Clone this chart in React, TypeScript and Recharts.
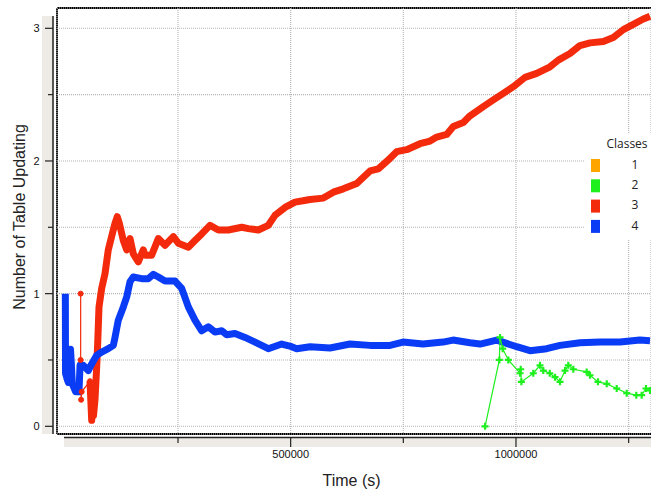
import React from 'react';
import { LineChart, Line, XAxis, YAxis, CartesianGrid, Legend } from 'recharts';

// ---- Data (x in seconds, y = number of table updating) ----
const class4Times = [0, 400, 3700, 6600, 9200, 11500, 13700, 15500, 23000, 30300, 32600, 39900, 51000, 58500, 69600, 80700, 95300, 106500, 110200, 117500, 128700, 136200, 143500, 150800, 169500, 184100, 195200, 206300, 221200, 243400, 258200, 272900, 287700, 302600, 317300, 332100, 347000, 358100, 376500, 398700, 420900, 450400, 480100, 502300, 513400, 543000, 587300, 631700, 676100, 720500, 749300, 793700, 838100, 860300, 898000, 920200, 957200, 1001600, 1031100, 1068100, 1097700, 1142000, 1186500, 1230800, 1275200, 1297400];
const class4Values = [1.0, 0.4, 0.36, 0.33, 0.42, 0.58, 0.45, 0.32, 0.26, 0.26, 0.46, 0.46, 0.42, 0.47, 0.535, 0.56, 0.585, 0.61, 0.67, 0.8, 0.9, 0.975, 1.09, 1.125, 1.113, 1.113, 1.146, 1.125, 1.095, 1.095, 1.04, 0.9, 0.8, 0.72, 0.75, 0.71, 0.72, 0.69, 0.7, 0.67, 0.635, 0.585, 0.62, 0.6, 0.585, 0.6, 0.59, 0.62, 0.61, 0.61, 0.635, 0.62, 0.635, 0.65, 0.63, 0.62, 0.65, 0.6, 0.57, 0.585, 0.61, 0.63, 0.635, 0.635, 0.65, 0.645];

const class3EarlyTimes = [34000, 34000, 35000, 36300, 54700];
const class3EarlyValues = [1.0, 0.5, 0.2, 0.26, 0.34];

const class3Times = [54700, 58500, 60300, 62500, 65800, 69600, 71800, 74700, 80700, 88000, 95300, 104200, 110200, 115300, 119800, 128700, 136200, 143500, 150800, 161900, 173000, 176800, 191600, 206300, 221200, 239600, 250700, 272900, 287700, 302600, 321000, 339500, 361700, 391400, 406100, 428300, 450400, 465300, 487500, 509600, 527400, 543000, 572500, 594700, 616900, 646600, 676100, 694500, 720500, 735300, 757400, 787000, 809200, 824100, 846300, 860900, 883100, 898000, 927500, 949700, 971900, 994100, 1020000, 1046000, 1075500, 1093900, 1119800, 1142000, 1164300, 1193800, 1216000, 1238200, 1260300, 1282500, 1297400];
const class3Values = [0.34, 0.045, 0.25, 0.08, 0.2, 0.45, 0.625, 0.9, 1.04, 1.15, 1.33, 1.45, 1.53, 1.58, 1.53, 1.4, 1.33, 1.415, 1.3, 1.24, 1.33, 1.29, 1.29, 1.415, 1.365, 1.43, 1.38, 1.35, 1.4, 1.45, 1.515, 1.48, 1.48, 1.5, 1.49, 1.48, 1.515, 1.59, 1.65, 1.69, 1.7, 1.71, 1.72, 1.765, 1.79, 1.83, 1.925, 1.94, 2.02, 2.07, 2.085, 2.13, 2.15, 2.18, 2.2, 2.26, 2.29, 2.34, 2.41, 2.46, 2.51, 2.56, 2.63, 2.66, 2.71, 2.76, 2.81, 2.87, 2.89, 2.9, 2.93, 2.99, 3.03, 3.07, 3.09];

const class2Times = [931400, 963100, 964600, 970500, 983000, 1009000, 1010500, 1012000, 1038400, 1053300, 1060600, 1075000, 1086600, 1097700, 1108800, 1116100, 1127200, 1156900, 1164300, 1182000, 1201400, 1223500, 1245700, 1267000, 1278900, 1288500, 1297400];
const class2Values = [0.0, 0.5, 0.67, 0.585, 0.5, 0.4, 0.43, 0.335, 0.4, 0.46, 0.42, 0.4, 0.37, 0.335, 0.42, 0.46, 0.43, 0.41, 0.385, 0.335, 0.32, 0.285, 0.25, 0.235, 0.235, 0.285, 0.27];

const xTicks = [250000, 500000, 750000, 1000000, 1250000];
const xLabelledTicks = [500000, 1000000];
const yTicks = [0, 0.5, 1, 1.5, 2, 2.5, 3];

const legendNames = ['1', '2', '3', '4'];
const legendColors = ['#FFA500', '#1EF01E', '#F32A0B', '#0A3CF5'];

const toPoints = (xs: number[], ys: number[]) => xs.map((x, i) => ({ x, y: ys[i] }));

const data4 = toPoints(class4Times, class4Values);
const data3Early = toPoints(class3EarlyTimes, class3EarlyValues);
const data3 = toPoints(class3Times, class3Values);
const data2 = toPoints(class2Times, class2Values);

const TICK_FONT = "'Liberation Sans', Arial, sans-serif";

const YTick = (props: any) => {
  const { x, y, payload } = props;
  const v = payload.value;
  const major = Number.isInteger(v);
  return (
    <g>
      <line x1={x - (major ? 12 : 9)} x2={x - 4} y1={y} y2={y} stroke="#222" strokeWidth={1.2} />
      {major && (
        <text x={x - 17.5} y={y + 4} textAnchor="end" fontSize={11} fontFamily={TICK_FONT} fill="#111">
          {v}
        </text>
      )}
    </g>
  );
};

const XTick = (props: any) => {
  const { x, y, payload } = props;
  const v = payload.value;
  const major = xLabelledTicks.includes(v);
  return (
    <g>
      <line x1={x} x2={x} y1={y + 3.5} y2={y + (major ? 13 : 9)} stroke="#222" strokeWidth={1.2} />
      {major && (
        <text x={x} y={y + 23.5} textAnchor="middle" fontSize={11} fontFamily={TICK_FONT} fill="#111">
          {v}
        </text>
      )}
    </g>
  );
};

const PlusDot = (props: any) => {
  const { cx, cy, index } = props;
  if (cx == null || cy == null) return null;
  return (
    <path
      key={`pd-${index}`}
      d={`M${cx - 3.5},${cy} L${cx + 3.5},${cy} M${cx},${cy - 3.5} L${cx},${cy + 3.5}`}
      stroke="#1EF01E"
      strokeWidth={2.2}
    />
  );
};

const LegendBox = () => (
  <svg width={66} height={107} style={{ display: 'block' }}>
    <rect x={0} y={0} width={66} height={107} fill="#fff" />
    <text x={42} y={15.3} textAnchor="middle" fontSize={12} fontFamily="'Open Sans', sans-serif" fill="#222">
      Classes
    </text>
    {legendNames.map((n, i) => (
      <g key={n}>
        <rect x={6} y={26 + i * 20.3} width={9} height={13} fill={legendColors[i]} />
        <text x={50} y={26 + i * 20.3 + 9.8} textAnchor="middle" fontSize={12} fontFamily="'Open Sans', sans-serif" fill="#222">
          {n}
        </text>
      </g>
    ))}
  </svg>
);

export default function App() {
  return (
    <div style={{ position: 'absolute', left: 0, top: 0, width: 651, height: 490, background: '#fff' }}>
      <svg width={651} height={490} style={{ position: 'absolute', left: 0, top: 0 }}>
        <rect x={42} y={16} width={11.5} height={418} fill="#EEEBE6" />
        <line x1={53} x2={53} y1={16} y2={434} stroke="#222" strokeWidth={1.5} />
        <rect x={64} y={437} width={587} height={10} fill="#EEEBE6" />
        <line x1={64} x2={651} y1={437.5} y2={437.5} stroke="#222" strokeWidth={1.5} />
        <line x1={57} x2={57} y1={8} y2={434} stroke="#000" strokeWidth={1.8} />
        <line x1={57} x2={651} y1={8} y2={8} stroke="#000" strokeWidth={1.8} />
        <line x1={57} x2={651} y1={434} y2={434} stroke="#000" strokeWidth={1.8} />
      </svg>
      <div style={{ position: 'absolute', left: 0, top: 0 }}>
        <LineChart width={651} height={490} margin={{ top: 8, right: 0, bottom: 0, left: 0 }}>
          <CartesianGrid stroke="#b4b4b4" strokeDasharray="1 1" strokeWidth={1.1} />
          <XAxis
            type="number"
            dataKey="x"
            domain={[-18500, 1299600]}
            allowDataOverflow
            ticks={xTicks}
            interval={0}
            height={56}
            axisLine={false}
            tickLine={false}
            tickSize={0}
            tickMargin={0}
            tick={<XTick />}
            label={() => (
              <text x={351.5} y={485.5} textAnchor="middle" fontSize={16} fontFamily={TICK_FONT} fill="#222">
                Time (s)
              </text>
            )}
          />
          <YAxis
            type="number"
            dataKey="y"
            domain={[-0.058, 3.153]}
            allowDataOverflow
            ticks={yTicks}
            interval={0}
            width={57}
            axisLine={false}
            tickLine={false}
            tickSize={0}
            tickMargin={0}
            tick={<YTick />}
            label={() => (
              <text
                transform="translate(24.5,217) rotate(-90)"
                textAnchor="middle"
                fontSize={16}
                fontFamily={TICK_FONT}
                fill="#222"
              >
                Number of Table Updating
              </text>
            )}
          />
          <Legend
            layout="horizontal"
            align="center"
            verticalAlign="middle"
            wrapperStyle={{ position: 'absolute', left: 585, top: 133, width: 66, height: 107 }}
            content={() => <LegendBox />}
          />
          <Line
            data={data3Early}
            dataKey="y"
            name="3"
            stroke="#F32A0B"
            strokeWidth={1.2}
            dot={{ r: 2.5, fill: '#F32A0B', stroke: '#F32A0B', strokeWidth: 1 }}
            isAnimationActive={false}
            legendType="none"
          />
          <Line
            data={data3}
            dataKey="y"
            name="3"
            stroke="#F32A0B"
            strokeWidth={7}
            strokeLinejoin="round"
            dot={false}
            isAnimationActive={false}
          />
          <Line
            data={data4}
            dataKey="y"
            name="4"
            stroke="#0A3CF5"
            strokeWidth={7}
            strokeLinejoin="round"
            dot={false}
            isAnimationActive={false}
          />
          <Line
            data={data2}
            dataKey="y"
            name="2"
            stroke="#1EF01E"
            strokeWidth={1.2}
            dot={<PlusDot />}
            isAnimationActive={false}
          />
        </LineChart>
      </div>
    </div>
  );
}
